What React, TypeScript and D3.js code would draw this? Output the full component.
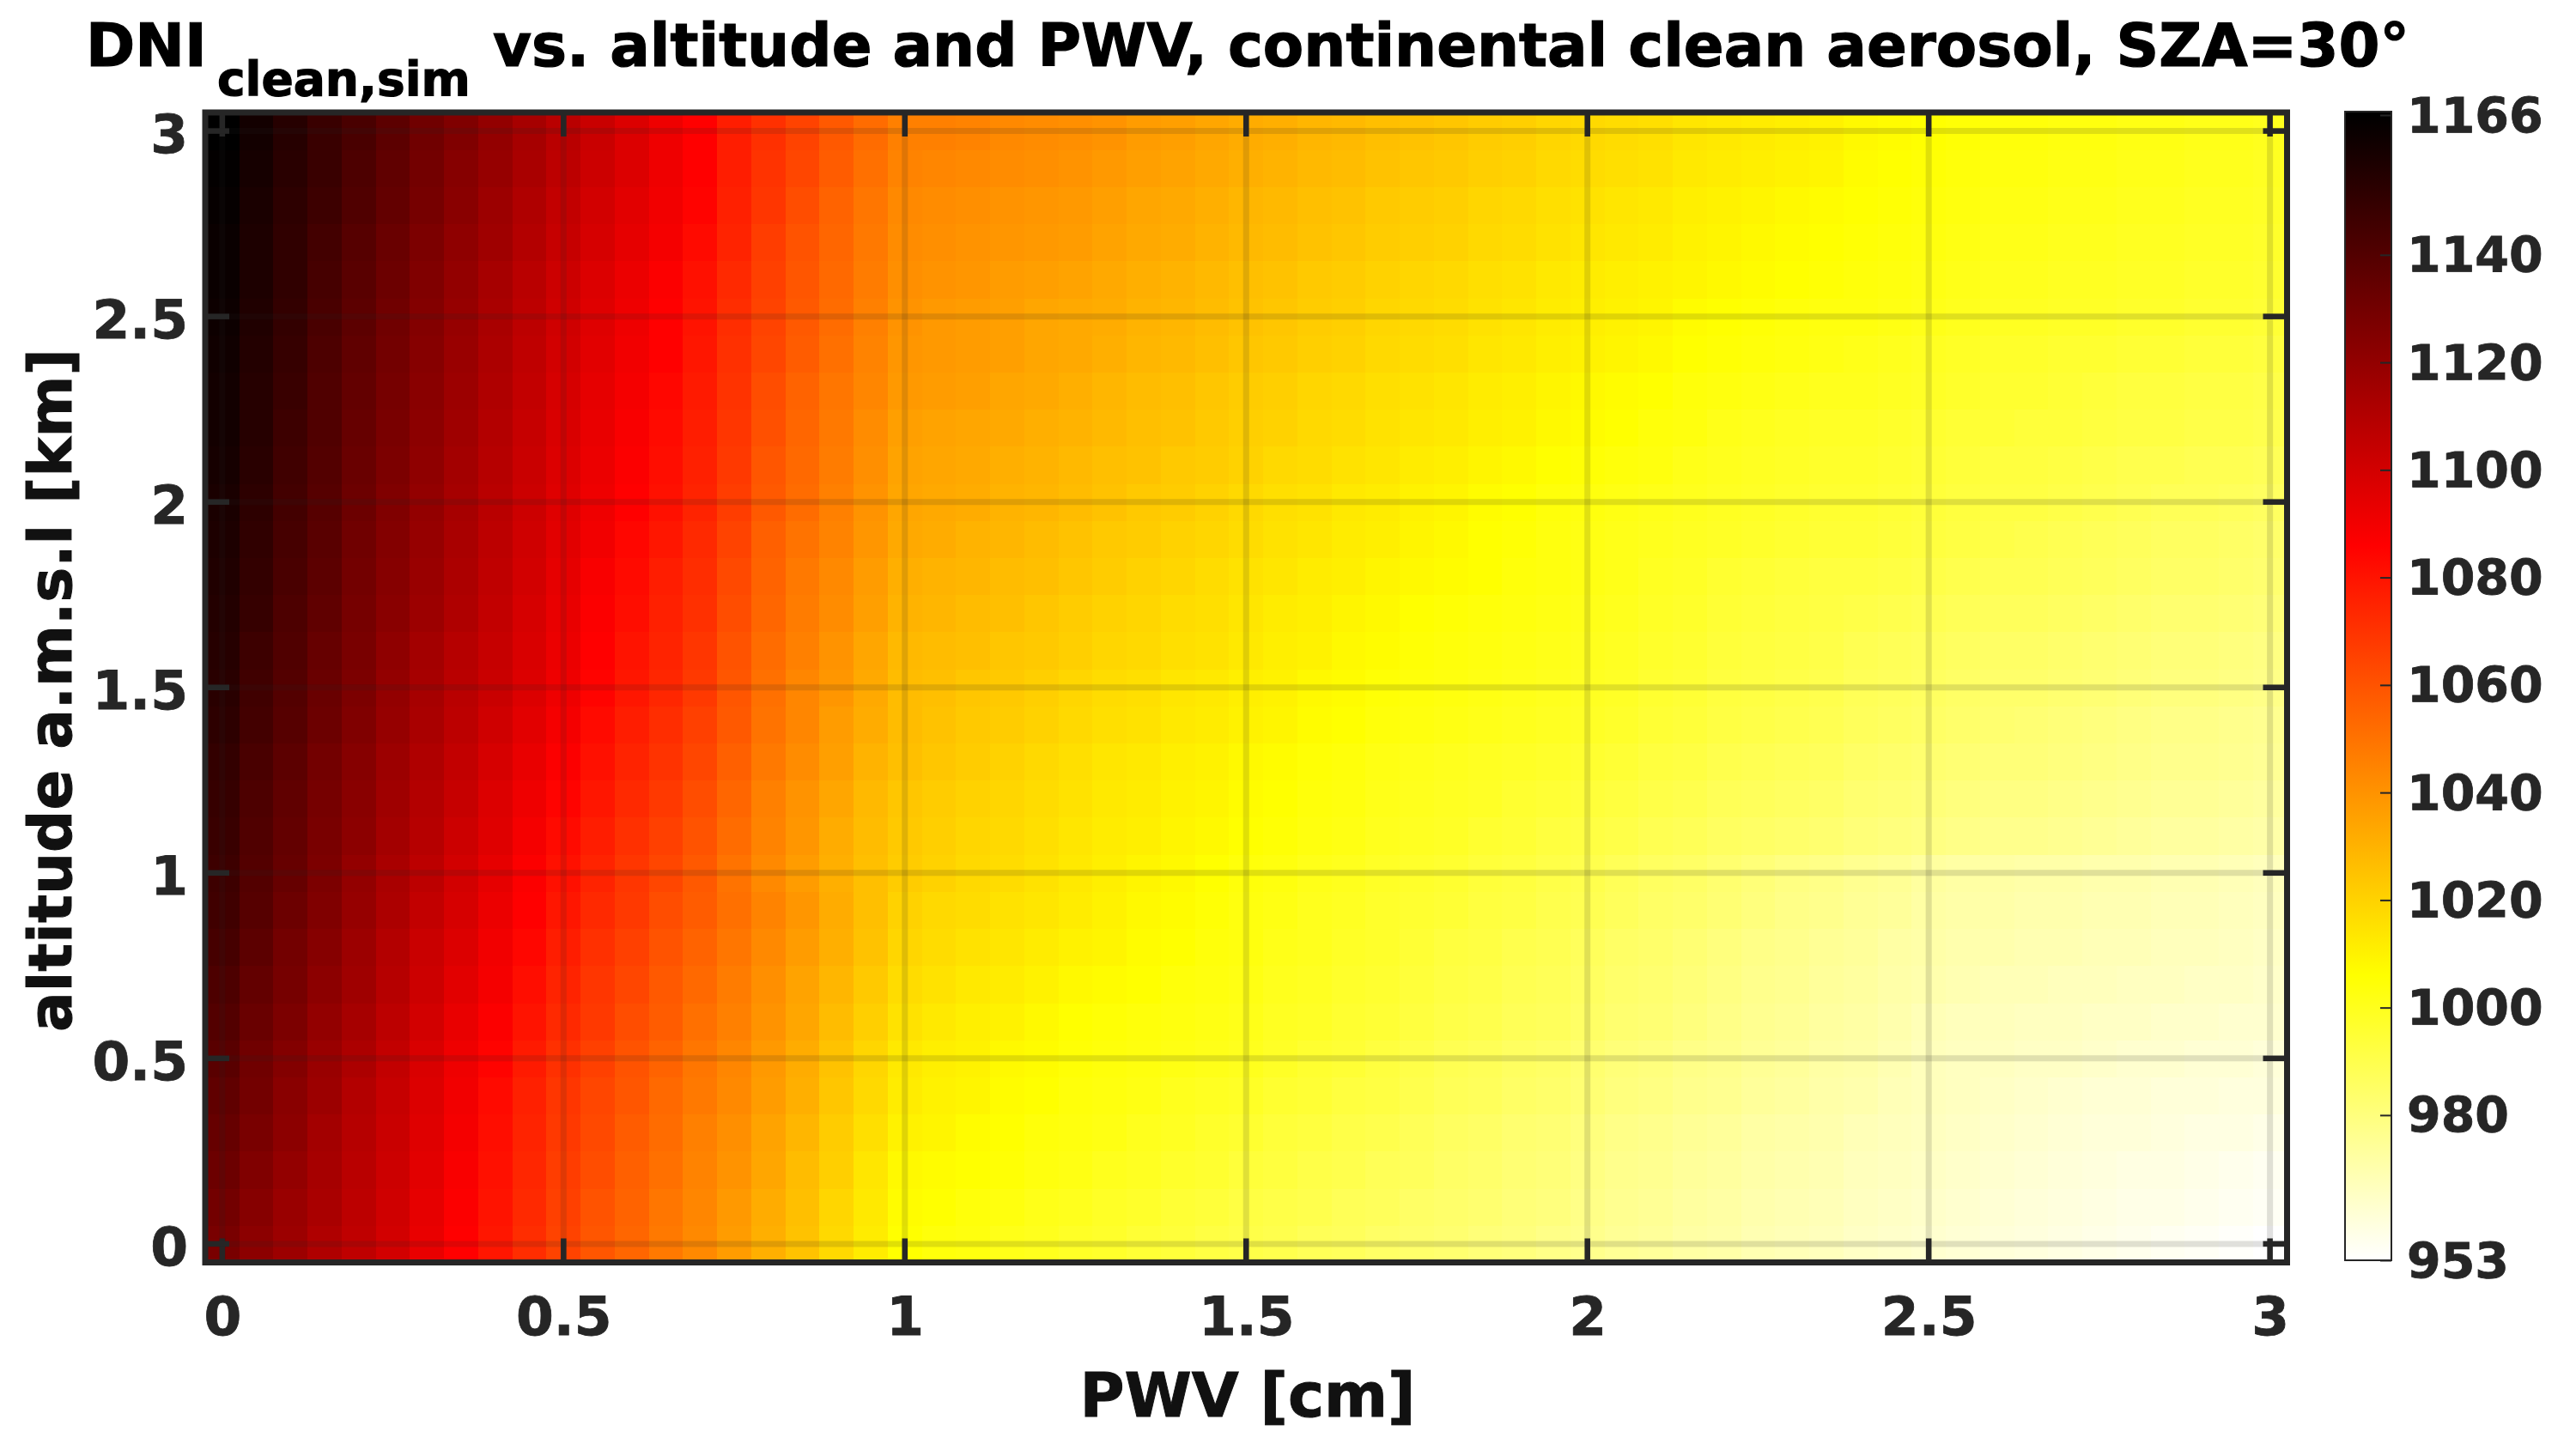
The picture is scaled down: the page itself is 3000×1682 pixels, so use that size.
import { FC, useEffect, useRef } from 'react';
import * as d3 from 'd3';

// PWV grid [cm] and altitude grid [km] of the simulation
const pwvStep = 0.05;
const altStep = 0.1;
const xTicks = [0, 0.5, 1, 1.5, 2, 2.5, 3];
const yTicks = [0, 0.5, 1, 1.5, 2, 2.5, 3];
const cbTicks = [953, 980, 1000, 1020, 1040, 1060, 1080, 1100, 1120, 1140, 1166];

// reversed "hot" colormap
const cmapValues = [953, 1006, 1086, 1166];
const cmapColors = ['#ffffff', '#ffff00', '#ff0000', '#000000'];

// DNI, one list per altitude, PWV going left to right
const alt00 = [1128,1122,1117,1111,1106,1100,1093,1086,1079,1072,1065,1059,1054,1048,1043,1037,1031,1025,1018,1012,1006,1004,1003,1001,1000,998,997,995,994,992,991,990,988,987,985,984,983,981,980,978,977,975,974,972,971,969,968,967,965,964,963,962,961,960,959,958,957,956,955,954,953];
const alt01 = [1130,1124,1118,1113,1107,1101,1094,1087,1080,1073,1066,1060,1055,1049,1044,1038,1032,1026,1019,1013,1007,1006,1004,1003,1001,1000,998,997,995,994,992,991,990,988,987,985,984,983,981,980,978,976,975,973,972,970,969,968,966,965,964,963,962,961,960,959,958,958,957,956,955];
const alt02 = [1132,1126,1120,1114,1108,1102,1095,1088,1081,1074,1067,1062,1056,1051,1045,1040,1034,1027,1021,1014,1008,1007,1006,1005,1003,1002,1000,999,997,996,994,993,991,990,988,987,985,984,982,981,979,977,976,974,973,971,970,969,967,966,965,964,963,962,961,960,959,959,958,957,956];
const alt03 = [1134,1128,1122,1115,1109,1103,1096,1089,1082,1075,1068,1063,1057,1052,1046,1041,1035,1029,1022,1016,1010,1009,1007,1006,1004,1003,1002,1000,999,997,996,994,993,991,990,988,986,985,983,982,980,978,977,975,974,972,971,970,968,967,966,965,964,963,962,961,961,960,959,959,958];
const alt04 = [1136,1130,1123,1117,1110,1104,1097,1090,1083,1076,1069,1064,1059,1053,1048,1043,1037,1031,1024,1018,1012,1010,1009,1007,1006,1004,1003,1002,1000,999,998,996,995,993,992,990,988,987,985,984,982,980,979,977,976,974,973,971,970,968,967,966,965,964,963,962,962,961,961,960,960];
const alt05 = [1138,1131,1125,1118,1112,1105,1098,1091,1085,1078,1071,1066,1060,1055,1049,1044,1038,1032,1025,1019,1013,1011,1010,1008,1007,1005,1004,1003,1002,1001,1000,998,996,995,993,991,989,988,986,985,983,981,980,978,977,975,974,972,971,969,967,966,966,965,965,964,963,963,962,962,961];
const alt06 = [1140,1133,1127,1120,1114,1107,1100,1093,1087,1080,1073,1068,1062,1057,1051,1046,1040,1034,1027,1021,1015,1013,1011,1010,1008,1006,1005,1004,1003,1002,1001,999,998,996,995,993,991,990,988,987,985,983,982,980,978,976,975,973,972,970,968,967,967,966,966,965,965,964,964,963,963];
const alt07 = [1142,1135,1129,1122,1116,1109,1102,1095,1089,1082,1075,1069,1064,1058,1053,1047,1041,1035,1029,1023,1017,1015,1013,1012,1010,1008,1007,1006,1004,1003,1002,1000,999,997,996,994,992,991,989,988,986,984,983,981,979,977,976,974,973,971,970,969,968,968,967,967,966,966,965,965,964];
const alt08 = [1144,1137,1130,1124,1117,1110,1103,1097,1090,1084,1077,1071,1066,1060,1055,1049,1043,1037,1031,1025,1019,1017,1015,1014,1012,1010,1009,1007,1006,1004,1003,1001,1000,998,997,995,993,992,990,989,987,985,984,982,980,978,977,975,974,972,971,970,970,969,969,968,968,967,967,966,965];
const alt09 = [1146,1139,1132,1126,1119,1112,1105,1099,1092,1086,1079,1073,1068,1062,1057,1051,1045,1039,1032,1026,1020,1018,1017,1015,1014,1012,1010,1008,1007,1005,1003,1002,1000,999,997,996,995,993,992,990,989,987,985,984,982,980,978,977,975,974,972,971,971,970,970,969,969,968,968,967,966];
const alt10 = [1147,1140,1134,1127,1120,1113,1107,1100,1094,1087,1081,1075,1069,1064,1058,1050,1043,1037,1031,1026,1022,1020,1018,1017,1015,1013,1011,1009,1008,1006,1004,1003,1001,1000,998,997,996,994,993,991,990,988,986,985,983,981,979,978,976,975,973,972,972,971,971,970,970,969,969,968,967];
const alt11 = [1148,1141,1135,1128,1122,1115,1109,1102,1096,1089,1083,1077,1071,1066,1060,1052,1045,1039,1032,1027,1023,1021,1019,1018,1016,1014,1012,1011,1009,1008,1006,1005,1003,1002,1000,999,998,996,995,993,992,991,989,988,986,985,984,983,981,980,979,978,977,977,976,975,974,973,973,972,971];
const alt12 = [1149,1142,1136,1129,1123,1116,1110,1104,1097,1091,1085,1079,1073,1068,1062,1054,1046,1040,1034,1028,1024,1022,1020,1019,1017,1015,1013,1012,1010,1009,1007,1006,1004,1003,1001,1000,999,998,996,995,994,993,991,990,988,987,986,985,983,982,981,980,979,979,978,977,976,975,975,974,973];
const alt13 = [1150,1143,1137,1130,1124,1117,1111,1105,1099,1093,1087,1081,1075,1070,1064,1056,1048,1042,1036,1030,1026,1024,1022,1020,1018,1016,1014,1013,1011,1010,1008,1007,1005,1004,1002,1001,1000,999,998,997,996,995,993,992,990,989,988,987,985,984,983,982,981,981,980,979,978,977,977,976,975];
const alt14 = [1152,1145,1139,1132,1126,1119,1113,1107,1101,1095,1089,1083,1077,1072,1066,1058,1050,1044,1037,1032,1027,1025,1023,1022,1020,1018,1016,1015,1013,1012,1010,1009,1007,1006,1004,1003,1002,1001,1000,999,998,997,995,994,992,991,990,989,987,986,985,984,983,982,981,980,979,978,978,977,976];
const alt15 = [1153,1146,1140,1133,1127,1120,1114,1108,1103,1097,1091,1085,1079,1074,1068,1059,1051,1044,1039,1033,1027,1026,1024,1023,1021,1019,1017,1016,1014,1013,1011,1010,1008,1007,1005,1004,1003,1002,1001,1000,999,998,996,995,993,992,991,990,988,987,986,985,984,984,983,982,981,980,980,979,978];
const alt16 = [1154,1147,1141,1134,1128,1121,1115,1109,1104,1098,1092,1086,1080,1075,1069,1060,1052,1046,1040,1034,1028,1027,1026,1024,1023,1021,1019,1018,1016,1015,1013,1011,1010,1008,1007,1005,1004,1003,1002,1001,1000,999,997,996,994,993,992,991,989,988,987,986,985,985,984,983,982,981,981,980,979];
const alt17 = [1155,1149,1142,1136,1129,1123,1117,1111,1105,1099,1093,1087,1082,1076,1071,1062,1054,1047,1042,1036,1030,1029,1027,1026,1024,1022,1020,1019,1017,1016,1014,1012,1011,1009,1008,1006,1005,1004,1003,1002,1001,1000,998,997,995,994,993,992,991,990,989,988,987,987,986,985,984,983,983,982,981];
const alt18 = [1156,1150,1143,1137,1130,1124,1118,1112,1106,1100,1094,1088,1083,1077,1072,1063,1055,1048,1043,1037,1031,1030,1029,1027,1026,1024,1022,1020,1019,1017,1015,1014,1012,1011,1009,1008,1007,1006,1004,1003,1002,1001,999,998,996,995,994,993,993,992,991,990,989,989,988,987,986,985,985,984,983];
const alt19 = [1157,1151,1144,1138,1131,1125,1119,1113,1107,1101,1095,1090,1084,1079,1073,1065,1056,1050,1045,1039,1033,1032,1030,1029,1027,1025,1023,1022,1020,1019,1017,1015,1014,1012,1011,1009,1008,1006,1005,1003,1002,1001,1000,999,998,997,996,995,995,994,993,992,991,990,989,988,987,986,986,985,984];
const alt20 = [1158,1152,1145,1139,1132,1126,1120,1114,1108,1102,1096,1091,1086,1081,1075,1067,1058,1052,1046,1040,1034,1033,1032,1030,1029,1027,1025,1023,1022,1020,1018,1016,1015,1013,1012,1010,1009,1007,1006,1004,1003,1002,1001,1000,999,998,997,996,996,995,994,993,992,992,991,990,989,988,988,987,986];
const alt21 = [1159,1153,1146,1140,1133,1127,1121,1115,1109,1103,1097,1092,1087,1082,1076,1068,1059,1053,1047,1041,1035,1034,1033,1031,1030,1028,1026,1025,1023,1022,1020,1018,1017,1015,1014,1012,1011,1009,1008,1006,1005,1004,1003,1001,1000,999,998,997,997,996,995,994,993,993,992,991,990,990,989,989,988];
const alt22 = [1160,1154,1147,1141,1134,1128,1122,1116,1110,1104,1098,1093,1088,1083,1077,1069,1061,1054,1048,1042,1036,1035,1034,1033,1031,1030,1028,1026,1025,1023,1021,1020,1018,1017,1015,1014,1013,1011,1010,1008,1007,1006,1004,1003,1001,1000,999,998,998,997,996,995,995,994,994,993,992,992,991,991,990];
const alt23 = [1160,1154,1148,1141,1135,1129,1123,1117,1111,1105,1099,1094,1089,1084,1078,1070,1062,1055,1049,1044,1038,1037,1036,1034,1033,1031,1029,1027,1026,1024,1022,1021,1019,1018,1016,1015,1014,1012,1011,1009,1008,1007,1006,1004,1003,1002,1001,1000,1000,999,998,997,996,996,995,994,993,993,992,992,991];
const alt24 = [1161,1155,1149,1142,1136,1130,1124,1118,1112,1106,1100,1095,1090,1086,1079,1071,1064,1057,1051,1045,1039,1038,1037,1036,1034,1033,1031,1029,1028,1026,1024,1023,1021,1020,1018,1017,1016,1014,1013,1011,1010,1009,1008,1006,1005,1004,1003,1002,1001,1000,999,998,997,997,996,996,995,995,994,994,993];
const alt25 = [1162,1156,1150,1143,1137,1131,1125,1119,1113,1107,1101,1096,1091,1086,1080,1072,1065,1058,1052,1046,1040,1038,1037,1036,1034,1033,1032,1030,1029,1027,1025,1024,1022,1021,1019,1018,1017,1015,1014,1012,1011,1010,1009,1007,1006,1005,1004,1003,1003,1002,1001,1000,999,999,998,998,997,997,996,996,995];
const alt26 = [1163,1157,1151,1144,1138,1132,1126,1120,1114,1108,1102,1097,1092,1087,1081,1073,1066,1059,1053,1047,1041,1040,1039,1037,1036,1035,1033,1031,1030,1028,1026,1025,1023,1022,1020,1019,1018,1016,1015,1013,1012,1011,1010,1009,1008,1007,1006,1005,1004,1003,1002,1001,1000,1000,999,999,998,998,997,997,996];
const alt27 = [1163,1157,1151,1145,1139,1133,1127,1121,1116,1110,1104,1099,1094,1089,1083,1075,1067,1060,1054,1048,1042,1041,1040,1039,1038,1037,1035,1033,1032,1030,1028,1027,1025,1024,1022,1021,1020,1018,1017,1015,1014,1013,1012,1010,1009,1008,1007,1006,1005,1004,1003,1002,1001,1001,1000,1000,999,999,998,998,997];
const alt28 = [1164,1158,1152,1147,1141,1135,1129,1123,1117,1111,1105,1100,1095,1090,1085,1076,1069,1062,1055,1049,1043,1042,1041,1040,1039,1038,1036,1034,1033,1031,1029,1028,1026,1025,1023,1022,1021,1019,1018,1016,1015,1014,1013,1011,1010,1009,1008,1007,1006,1005,1004,1003,1002,1002,1001,1001,1000,1000,999,999,998];
const alt29 = [1165,1159,1153,1148,1142,1136,1130,1124,1119,1113,1107,1102,1097,1091,1086,1077,1070,1064,1057,1051,1045,1044,1043,1042,1041,1040,1038,1036,1035,1033,1031,1030,1028,1027,1025,1024,1023,1021,1020,1018,1017,1016,1015,1013,1012,1011,1010,1009,1007,1006,1005,1004,1003,1003,1002,1002,1001,1001,1000,1000,999];
const alt30 = [1166,1160,1154,1148,1143,1137,1131,1126,1120,1114,1108,1103,1097,1091,1086,1077,1071,1065,1058,1052,1046,1046,1045,1043,1042,1041,1040,1037,1036,1034,1032,1031,1029,1028,1026,1025,1024,1022,1021,1019,1018,1017,1016,1014,1013,1012,1011,1010,1008,1007,1006,1005,1004,1004,1003,1003,1002,1002,1001,1001,1000];

const dniRows = [
  alt00, alt01, alt02, alt03, alt04, alt05, alt06, alt07, alt08, alt09, alt10,
  alt11, alt12, alt13, alt14, alt15, alt16, alt17, alt18, alt19, alt20,
  alt21, alt22, alt23, alt24, alt25, alt26, alt27, alt28, alt29, alt30,
];

const App: FC = () => {
  const svgRef = useRef<SVGSVGElement | null>(null);

  const width = 3000;
  const height = 1682;
  const plot = { left: 239, right: 2663.5, top: 131, bottom: 1470.5 };
  const bar = { left: 2731, right: 2785, top: 130, bottom: 1468 };
  const dark = '#262626';
  const font = '"DejaVu Sans", Verdana, sans-serif';

  useEffect(() => {
    if (!svgRef.current) return;

    const svg = d3.select(svgRef.current);
    svg.selectAll('*').remove(); // Clear previous render
    svg.style('font-family', font).style('font-weight', 'bold');

    const x = d3
      .scaleLinear()
      .domain([-pwvStep / 2, 3 + pwvStep / 2])
      .range([plot.left, plot.right]);

    const y = d3
      .scaleLinear()
      .domain([-altStep / 2, 3 + altStep / 2])
      .range([plot.bottom, plot.top]);

    const color = d3
      .scaleLinear<string>()
      .domain(cmapValues)
      .range(cmapColors)
      .clamp(true);

    // Heat map cells
    const cells = svg.append('g').attr('shape-rendering', 'crispEdges');
    dniRows.forEach((row, r) => {
      cells
        .selectAll(null)
        .data(row)
        .enter()
        .append('rect')
        .attr('x', (_d: number, k: number) => x(k * pwvStep - pwvStep / 2))
        .attr('y', y(r * altStep + altStep / 2))
        .attr('width', x(pwvStep) - x(0) + 0.5)
        .attr('height', y(0) - y(altStep) + 0.5)
        .attr('fill', (d: number) => color(d));
    });

    // Gridlines
    const grid = svg.append('g').attr('stroke', dark).attr('stroke-opacity', 0.14).attr('stroke-width', 7);
    xTicks.forEach((t) => {
      grid.append('line').attr('x1', x(t)).attr('x2', x(t)).attr('y1', plot.top).attr('y2', plot.bottom);
    });
    yTicks.forEach((t) => {
      grid.append('line').attr('x1', plot.left).attr('x2', plot.right).attr('y1', y(t)).attr('y2', y(t));
    });

    // Ticks on all four sides
    const ticks = svg.append('g').attr('stroke', dark).attr('stroke-width', 6.5);
    const tickLen = 28;
    xTicks.forEach((t) => {
      ticks.append('line').attr('x1', x(t)).attr('x2', x(t)).attr('y1', plot.bottom).attr('y2', plot.bottom - tickLen);
      ticks.append('line').attr('x1', x(t)).attr('x2', x(t)).attr('y1', plot.top).attr('y2', plot.top + tickLen);
    });
    yTicks.forEach((t) => {
      ticks.append('line').attr('x1', plot.left).attr('x2', plot.left + tickLen).attr('y1', y(t)).attr('y2', y(t));
      ticks.append('line').attr('x1', plot.right).attr('x2', plot.right - tickLen).attr('y1', y(t)).attr('y2', y(t));
    });

    // Frame
    svg
      .append('rect')
      .attr('x', plot.left)
      .attr('y', plot.top)
      .attr('width', plot.right - plot.left)
      .attr('height', plot.bottom - plot.top)
      .attr('fill', 'none')
      .attr('stroke', dark)
      .attr('stroke-width', 7);

    // Tick labels
    const xAxis = svg
      .append('g')
      .attr('transform', `translate(0,1555)`)
      .call(d3.axisBottom(x).tickValues(xTicks).tickSize(0).tickFormat((d: any) => String(d)));
    xAxis.select('.domain').remove();
    xAxis
      .selectAll('text')
      .attr('y', 0)
      .attr('dy', 0)
      .attr('fill', dark)
      .attr('stroke', dark)
      .attr('stroke-width', 0.8)
      .attr('font-size', 63)
      .attr('font-family', font);

    const yAxis = svg
      .append('g')
      .attr('transform', `translate(219,0)`)
      .call(d3.axisLeft(y).tickValues(yTicks).tickSize(0).tickFormat((d: any) => String(d)));
    yAxis.select('.domain').remove();
    yAxis
      .selectAll('text')
      .attr('x', 0)
      .attr('dy', 25)
      .attr('fill', dark)
      .attr('stroke', dark)
      .attr('stroke-width', 0.8)
      .attr('font-size', 63)
      .attr('font-family', font);

    // Colorbar
    const cb = d3.scaleLinear().domain([953, 1166]).range([1468, 134]);
    const defs = svg.append('defs');
    const gradient = defs
      .append('linearGradient')
      .attr('id', 'cmap')
      .attr('gradientUnits', 'userSpaceOnUse')
      .attr('x1', 0)
      .attr('x2', 0)
      .attr('y1', bar.bottom)
      .attr('y2', cb(1166));
    cmapValues.forEach((v, i) => {
      gradient
        .append('stop')
        .attr('offset', (v - 953) / (1166 - 953))
        .attr('stop-color', cmapColors[i]);
    });
    svg
      .append('rect')
      .attr('x', bar.left)
      .attr('y', bar.top)
      .attr('width', bar.right - bar.left)
      .attr('height', bar.bottom - bar.top)
      .attr('fill', 'url(#cmap)')
      .attr('stroke', dark)
      .attr('stroke-width', 2);
    const cbAxis = svg
      .append('g')
      .attr('transform', `translate(${bar.right},0)`)
      .call(d3.axisRight(cb).tickValues(cbTicks).tickSize(-13).tickFormat((d: any) => String(d)));
    cbAxis.select('.domain').remove();
    cbAxis.selectAll('line').attr('stroke', dark).attr('stroke-width', 2);
    cbAxis
      .selectAll('text')
      .attr('x', 18)
      .attr('dy', 20)
      .attr('fill', dark)
      .attr('stroke', dark)
      .attr('stroke-width', 0.8)
      .attr('font-size', 57)
      .attr('font-family', font);

    // Titles
    const title = svg.append('g').attr('fill', '#000000').attr('stroke', '#000000').attr('stroke-width', 1.2);
    title.append('text').attr('x', 100).attr('y', 77).attr('font-size', 69).text('DNI');
    title.append('text').attr('x', 253).attr('y', 111).attr('font-size', 55).text('clean,sim');
    title
      .append('text')
      .attr('x', 574)
      .attr('y', 77)
      .attr('font-size', 69)
      .text('vs. altitude and PWV, continental clean aerosol, SZA=30°');

    svg
      .append('text')
      .attr('x', 1453)
      .attr('y', 1650)
      .attr('text-anchor', 'middle')
      .attr('font-size', 71)
      .attr('fill', '#111111')
      .attr('stroke', '#111111')
      .attr('stroke-width', 1)
      .text('PWV [cm]');

    svg
      .append('text')
      .attr('transform', 'translate(83,804) rotate(-90)')
      .attr('text-anchor', 'middle')
      .attr('font-size', 69)
      .attr('fill', '#111111')
      .attr('stroke', '#111111')
      .attr('stroke-width', 1)
      .text('altitude a.m.s.l [km]');
  }, []);

  return (
    <svg
      ref={svgRef}
      width={width}
      height={height}
      style={{ position: 'absolute', left: 0, top: 0, background: '#ffffff' }}
    />
  );
};

export default App;
